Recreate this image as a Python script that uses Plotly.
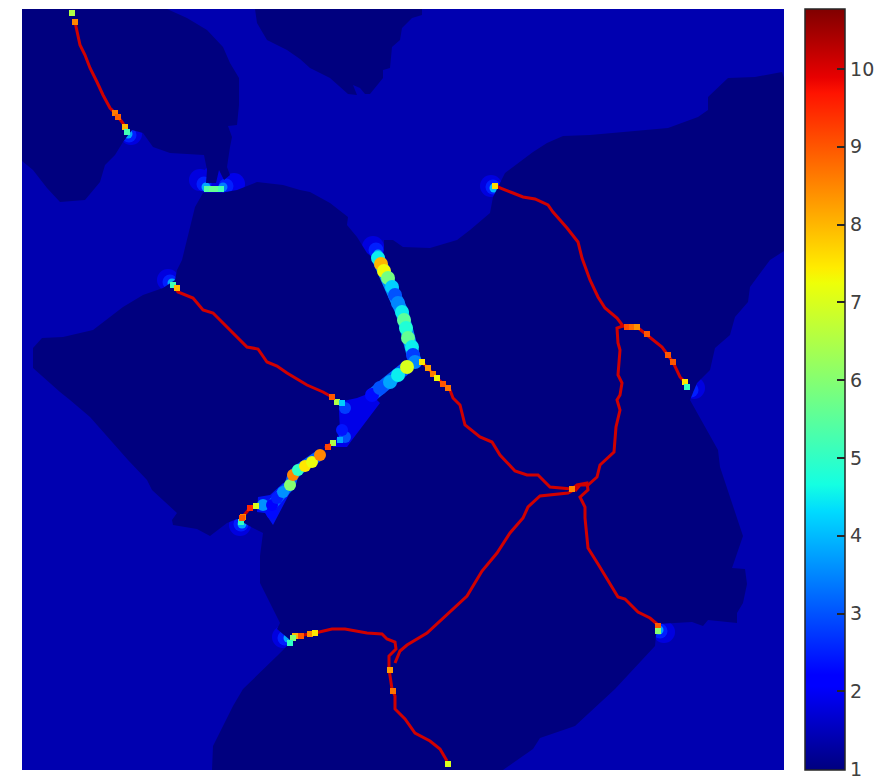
import plotly.graph_objects as go

field_level = 1.4
color_ticks = [1, 2, 3, 4, 5, 6, 7, 8, 9, 10]
color_min = 0.99
color_max = 10.77

region_top_left = [
    (167, 9), (187, 18), (207, 30), (223, 47), (230, 63), (239, 78), (239, 105), (237, 125), (228, 126),
    (232, 137), (230, 147), (227, 167), (230, 175), (224, 180), (219, 170), (216, 183), (206, 183), (207, 170),
    (204, 155), (170, 153), (153, 147), (143, 133), (132, 130), (123, 142), (115, 155), (105, 165), (100, 182),
    (85, 200), (60, 202), (47, 188), (33, 170), (22, 161), (22, 9),
]
region_top_middle = [
    (255, 9), (257, 23), (267, 40), (287, 50), (300, 59), (310, 68), (330, 78), (348, 94), (357, 95), (353, 85),
    (360, 88), (365, 94), (370, 94), (383, 78), (383, 70), (390, 68), (392, 47), (400, 40), (402, 28), (412, 18),
    (422, 15), (422, 9),
]
region_main = [
    (212, 770), (213, 746), (233, 706), (243, 689), (277, 656), (287, 646), (290, 640), (277, 629), (280, 623),
    (260, 583), (260, 556), (263, 533), (253, 528), (237, 519), (227, 523), (210, 536), (197, 529), (173, 525),
    (172, 520), (177, 513), (152, 490), (147, 480), (128, 460), (90, 417), (70, 400), (60, 392), (33, 368),
    (33, 348), (42, 338), (63, 337), (93, 330), (123, 307), (143, 295), (163, 288), (175, 280), (177, 270),
    (182, 260), (190, 227), (195, 207), (203, 193), (220, 193), (237, 190), (257, 182), (283, 185), (300, 190),
    (310, 192), (330, 203), (348, 217), (347, 225), (357, 237), (367, 253), (373, 258), (384, 258), (384, 240),
    (393, 240), (403, 247), (430, 248), (457, 240), (470, 230), (490, 213), (493, 197), (505, 173), (520, 162),
    (533, 152), (547, 143), (563, 136), (590, 135), (613, 133), (637, 131), (668, 128), (698, 117), (708, 110),
    (708, 97), (728, 78), (755, 77), (782, 72), (784, 78), (784, 251), (770, 260), (750, 287), (748, 302),
    (735, 317), (730, 335), (715, 348), (710, 370), (697, 383), (690, 400), (718, 450), (720, 467), (738, 520),
    (743, 536), (732, 568), (745, 569), (747, 584), (743, 603), (737, 613), (737, 623), (708, 620), (703, 626),
    (692, 622), (657, 624), (655, 646), (638, 664), (615, 689), (575, 726), (540, 738), (533, 749), (503, 770),
]

wedge_middle = [
    (339, 402), (357, 398), (370, 393), (380, 403), (352, 440), (347, 447), (333, 447), (340, 430), (339, 412),
]
wedge_lower = [(258, 497), (270, 495), (283, 483), (295, 483), (273, 525), (265, 513), (257, 512)]

ridge_top_left = [
    (75, 22), (77, 32), (80, 45), (85, 55), (90, 68), (97, 82), (103, 95), (110, 108), (115, 113), (122, 122),
    (126, 128),
]
ridge_upper_left = [
    (173, 285), (178, 292), (193, 298), (203, 310), (213, 313), (230, 330), (247, 347), (258, 349), (267, 362),
    (277, 366), (287, 373), (307, 385), (323, 392), (332, 397),
]
ridge_top_right = [
    (497, 186), (500, 188), (513, 193), (523, 197), (535, 199), (548, 205), (553, 212), (567, 228), (578, 242),
    (582, 258), (590, 280), (598, 297), (605, 308), (617, 318), (623, 326), (637, 327), (647, 335), (662, 347),
    (673, 362), (680, 377), (685, 382),
]
ridge_right_branch = [
    (623, 326), (617, 328), (618, 343), (620, 350), (618, 375), (622, 383), (620, 395), (617, 400), (620, 410),
    (616, 427), (614, 452), (600, 465), (597, 477), (588, 485), (580, 485), (575, 491),
]
ridge_center = [
    (422, 362), (437, 378), (450, 390), (453, 398), (460, 405), (465, 425), (480, 437), (492, 442), (500, 455),
    (515, 471), (527, 475), (538, 475), (550, 487), (572, 489),
]
ridge_loop = [
    (572, 489), (577, 485), (587, 483), (588, 490), (580, 497), (585, 507), (585, 518), (588, 548), (598, 564),
    (608, 581), (618, 597), (625, 599), (638, 612), (650, 618), (657, 624),
]
ridge_diagonal = [
    (572, 491), (568, 493), (540, 496), (528, 507), (523, 518), (510, 533), (497, 553), (482, 571), (467, 596),
    (453, 609), (437, 623), (427, 633), (407, 645), (400, 651), (395, 663),
]
ridge_bottom = [
    (292, 637), (315, 633), (332, 629), (345, 629), (367, 633), (382, 634), (387, 639), (395, 642), (396, 649),
    (389, 656), (389, 669), (392, 689), (395, 696), (395, 709), (405, 719), (415, 733), (430, 741), (440, 749),
    (447, 761),
]
ridge_links = [
    [(325, 448), (332, 443)],
    [(240, 520), (250, 508)],
]

channel_upper = [
    (378, 258, 4.5), (381, 264, 8), (384, 271, 7.3), (388, 278, 5.8), (392, 287, 4.2), (395, 295, 3),
    (398, 303, 3.5), (402, 312, 4.5), (404, 320, 5.5), (406, 328, 4.8), (408, 338, 5.6), (412, 347, 4.5),
    (413, 355, 2.8), (415, 362, 3.5),
]
channel_middle = [
    (372, 395, 2.3), (380, 388, 3), (390, 382, 3.8), (398, 375, 4.5), (407, 367, 7),
]
channel_lower = [
    (272, 505, 2.2), (277, 498, 2.5), (283, 492, 3.6), (290, 485, 6), (293, 475, 8.5), (298, 470, 5),
    (305, 466, 7.5), (312, 462, 7.2), (320, 455, 8.5),
]

# blue fans round the hot tips, these sit under the dark regions
halo_spots = [
    (131, 134, 1.8), (200, 180, 1.8), (214, 176, 1.8), (234, 184, 1.9), (491, 186, 1.8), (168, 280, 1.8),
    (373, 247, 1.8), (694, 388, 1.8), (664, 632, 1.8), (283, 637, 1.8), (240, 525, 1.8), (455, 770, 1.8),
]
middle_spots = [
    (129, 135, 2.5), (204, 184, 2.5), (226, 186, 2.5), (493, 187, 2.5), (170, 282, 2.5), (376, 250, 2.5),
    (691, 390, 2.5), (660, 631, 2.5), (285, 638, 2.5), (241, 524, 2.5), (453, 770, 2.5),
]
soft_spots = [
    (128, 134, 3.8), (206, 187, 3.8), (223, 187, 3.4), (494, 188, 4), (172, 283, 3.8), (378, 254, 3.8),
    (689, 390, 3.8), (659, 630, 3.8), (288, 638, 3.8), (242, 524, 3.8), (452, 769, 4.2),
]
wedge_spots = [
    (345, 408, 2.8), (345, 437, 3), (342, 430, 2.4), (263, 505, 3.6), (272, 513, 2.3),
]
hot_spots = [
    (72, 13, 6.5), (75, 22, 8.5), (115, 113, 8.6), (118, 117, 8.9), (125, 127, 8), (127, 132, 5.2), (173, 285, 5.2),
    (177, 288, 8), (207, 189, 5.4), (212, 189, 5.6), (217, 189, 5.6), (221, 189, 5.2), (495, 186, 7.6),
    (337, 402, 6.5), (332, 397, 9), (342, 403, 4.2), (333, 443, 6.5), (328, 447, 9.2), (340, 440, 3.8),
    (256, 506, 7), (250, 508, 9.5), (243, 517, 8.5), (241, 522, 5), (422, 362, 7.5), (428, 368, 8.3),
    (433, 374, 8.6), (437, 378, 7.3), (443, 384, 9), (448, 388, 8.7), (572, 489, 8.5), (627, 327, 9.1),
    (632, 327, 8.8), (637, 327, 8.4), (647, 334, 9), (668, 355, 9), (673, 362, 9), (685, 382, 7.5), (687, 387, 5),
    (310, 634, 8.4), (315, 633, 7.5), (301, 636, 9), (295, 636, 8), (293, 638, 6), (290, 643, 5), (390, 670, 8.3),
    (393, 691, 8.7), (448, 764, 7), (658, 626, 9), (658, 631, 6), (242, 518, 9),
]


def pick(points, i):
    return [p[i] for p in points]


def add_fill(fig, points, color):
    fig.add_trace(go.Scatter(
        x=pick(points, 0), y=pick(points, 1), mode="lines", fill="toself", fillcolor=color,
        line=dict(width=0), hoverinfo="skip", showlegend=False,
    ))


def add_ridge(fig, points):
    fig.add_trace(go.Scatter(
        x=pick(points, 0), y=pick(points, 1), mode="lines",
        line=dict(color="#d00000", width=3), hoverinfo="skip", showlegend=False,
    ))


def add_spots(fig, points, size, symbol="circle"):
    fig.add_trace(go.Scatter(
        x=pick(points, 0), y=pick(points, 1), mode="markers",
        marker=dict(color=pick(points, 2), coloraxis="coloraxis", size=size, symbol=symbol, line=dict(width=0)),
        hoverinfo="skip", showlegend=False,
    ))


def add_channel(fig, points, base_color, size):
    fig.add_trace(go.Scatter(
        x=pick(points, 0), y=pick(points, 1), mode="lines",
        line=dict(color=base_color, width=size - 1), hoverinfo="skip", showlegend=False,
    ))
    add_spots(fig, points, size)


fig = go.Figure()

# flat background, also carries the colorbar
fig.add_trace(go.Heatmap(
    x=[22, 784], y=[9, 770], z=[[field_level, field_level], [field_level, field_level]],
    coloraxis="coloraxis", hoverinfo="skip",
))

add_spots(fig, halo_spots, 22)
add_spots(fig, middle_spots, 15)
add_spots(fig, soft_spots, 9)

add_fill(fig, region_top_left, "#00007f")
add_fill(fig, region_top_middle, "#00007f")
add_fill(fig, region_main, "#00007f")

add_fill(fig, wedge_middle, "#0000e8")
add_fill(fig, wedge_lower, "#0010f0")
add_spots(fig, wedge_spots, 12)

for ridge in [ridge_top_left, ridge_upper_left, ridge_top_right, ridge_right_branch, ridge_center,
              ridge_loop, ridge_diagonal, ridge_bottom] + ridge_links:
    add_ridge(fig, ridge)

add_channel(fig, channel_upper, "#0090ff", 14)
add_channel(fig, channel_middle, "#0060ff", 14)
add_channel(fig, channel_lower, "#0060ff", 12)
add_spots(fig, hot_spots, 6, "square")

fig.update_layout(
    width=875,
    height=776,
    margin=dict(l=22, r=91, t=9, b=6, autoexpand=False),
    paper_bgcolor="white",
    plot_bgcolor="white",
    showlegend=False,
    font=dict(family="DejaVu Sans", size=19, color="#404040"),
    xaxis=dict(range=[22, 784], visible=False),
    yaxis=dict(range=[770, 9], visible=False),
    coloraxis=dict(
        cmin=color_min,
        cmax=color_max,
        colorscale=[
            [0, "rgb(0,0,127)"], [0.11, "rgb(0,0,255)"], [0.125, "rgb(0,0,255)"], [0.34, "rgb(0,219,255)"],
            [0.375, "rgb(20,255,226)"], [0.64, "rgb(238,255,8)"], [0.66, "rgb(255,236,0)"], [0.89, "rgb(255,19,0)"],
            [0.91, "rgb(232,0,0)"], [1, "rgb(128,0,0)"],
        ],
        colorbar=dict(
            x=1.0276, xanchor="left", xpad=0,
            y=0, yanchor="bottom", ypad=0,
            len=1, lenmode="fraction",
            thickness=40, thicknessmode="pixels",
            tickvals=color_ticks,
            ticks="inside", ticklen=8, tickwidth=1.5, tickcolor="#262626",
            ticklabeloverflow="allow",
            outlinecolor="#262626", outlinewidth=1.5,
            tickfont=dict(family="DejaVu Sans", size=19, color="#404040"),
        ),
    ),
)

fig.write_html("out.html", config={"displayModeBar": False}, post_script="document.body.style.margin='0'")
